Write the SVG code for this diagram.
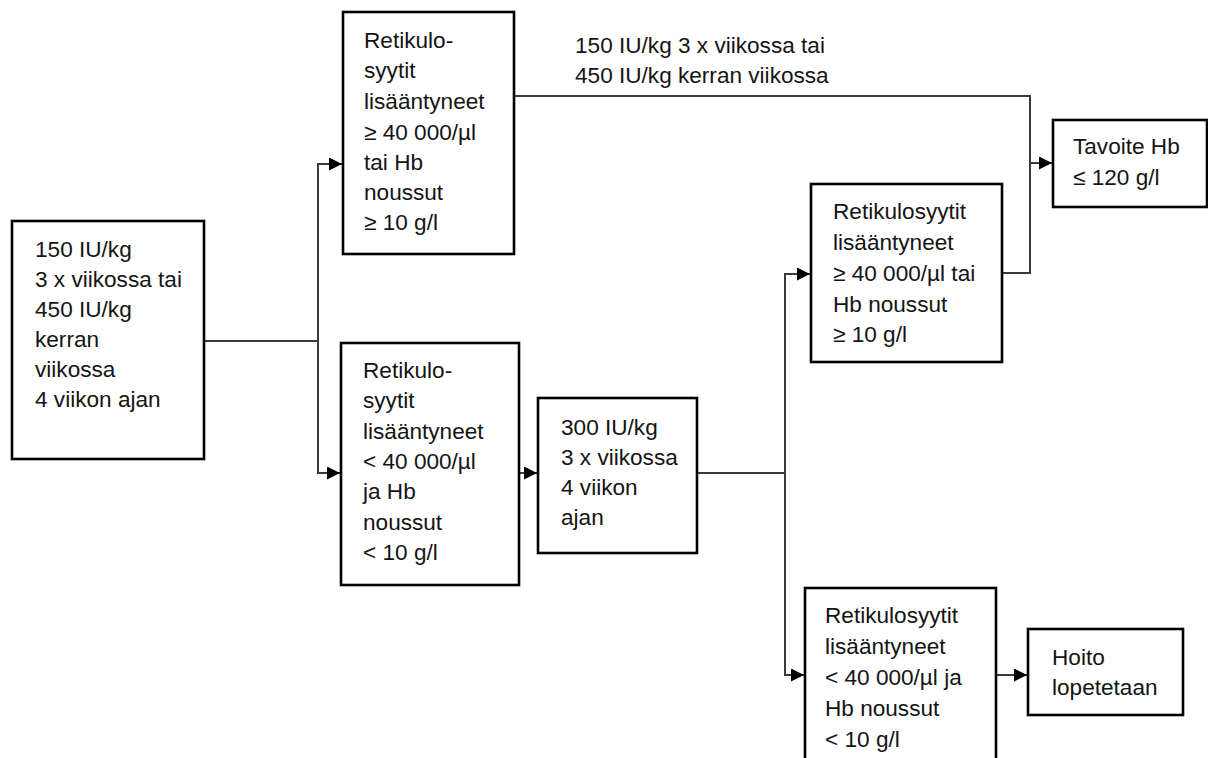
<svg xmlns="http://www.w3.org/2000/svg" width="1208" height="758" viewBox="0 0 1208 758">
  <style>
    .box { fill: #ffffff; stroke: #000000; stroke-width: 2.6; }
    .txt { font-family: "Liberation Sans", Arial, sans-serif; font-size: 22.6px; fill: #141414; }
    .wire { fill: none; stroke: #3a3a3a; stroke-width: 2; }
    .arrow { marker-end: url(#head); }
  </style>
  <defs>
    <marker id="head" markerUnits="userSpaceOnUse" markerWidth="14" markerHeight="13" refX="13" refY="6.5" orient="auto">
      <path d="M0,0 L13,6.5 L0,13 z" fill="#000000"/>
    </marker>
  </defs>
  <rect width="1208" height="758" fill="#ffffff"/>

  <!-- connectors -->
  <g id="connectors">
    <path class="wire arrow" d="M204,341 H318 V164 H342"/>
    <path class="wire arrow" d="M318,341 V473 H340"/>
    <path class="wire" d="M514,96 H1030 V163"/>
    <path class="wire" d="M1002,273 H1030 V163"/>
    <path class="wire arrow" d="M1030,163 H1052"/>
    <path class="wire arrow" d="M519,473 H537"/>
    <path class="wire" d="M697,473 H785"/>
    <path class="wire arrow" d="M785,473 V274 H810"/>
    <path class="wire arrow" d="M785,473 V675 H804"/>
    <path class="wire arrow" d="M996,675 H1027"/>
    <text class="txt" x="575" y="53">150 IU/kg 3 x viikossa tai</text>
    <text class="txt" x="575" y="83">450 IU/kg kerran viikossa</text>
  </g>

  <g id="start">
    <rect class="box" x="12" y="221" width="192" height="238"/>
    <text class="txt" x="35" y="257">150 IU/kg</text>
    <text class="txt" x="35" y="287">3 x viikossa tai</text>
    <text class="txt" x="35" y="317">450 IU/kg</text>
    <text class="txt" x="35" y="347">kerran</text>
    <text class="txt" x="35" y="377">viikossa</text>
    <text class="txt" x="35" y="407">4 viikon ajan</text>
  </g>

  <g id="response-high-1">
    <rect class="box" x="343" y="12" width="171" height="242"/>
    <text class="txt" x="364" y="48">Retikulo-</text>
    <text class="txt" x="364" y="78">syytit</text>
    <text class="txt" x="364" y="109">lisääntyneet</text>
    <text class="txt" x="364" y="140">≥ 40 000/µl</text>
    <text class="txt" x="364" y="170">tai Hb</text>
    <text class="txt" x="364" y="200">noussut</text>
    <text class="txt" x="364" y="230">≥ 10 g/l</text>
  </g>

  <g id="response-low-1">
    <rect class="box" x="341" y="343" width="178" height="242"/>
    <text class="txt" x="363" y="378">Retikulo-</text>
    <text class="txt" x="363" y="408">syytit</text>
    <text class="txt" x="363" y="439">lisääntyneet</text>
    <text class="txt" x="363" y="469">&lt; 40 000/µl</text>
    <text class="txt" x="363" y="499">ja Hb</text>
    <text class="txt" x="363" y="530">noussut</text>
    <text class="txt" x="363" y="560">&lt; 10 g/l</text>
  </g>

  <g id="dose-increase">
    <rect class="box" x="538" y="398" width="159" height="155"/>
    <text class="txt" x="561" y="435">300 IU/kg</text>
    <text class="txt" x="561" y="465">3 x viikossa</text>
    <text class="txt" x="561" y="495">4 viikon</text>
    <text class="txt" x="561" y="525">ajan</text>
  </g>

  <g id="response-high-2">
    <rect class="box" x="811" y="184" width="191" height="178"/>
    <text class="txt" x="833" y="219">Retikulosyytit</text>
    <text class="txt" x="833" y="250">lisääntyneet</text>
    <text class="txt" x="833" y="281">≥ 40 000/µl tai</text>
    <text class="txt" x="833" y="312">Hb noussut</text>
    <text class="txt" x="833" y="342">≥ 10 g/l</text>
  </g>

  <g id="target">
    <rect class="box" x="1053" y="120" width="154" height="87"/>
    <text class="txt" x="1073" y="154">Tavoite Hb</text>
    <text class="txt" x="1073" y="185">≤ 120 g/l</text>
  </g>

  <g id="response-low-2">
    <rect class="box" x="805" y="588" width="191" height="200"/>
    <text class="txt" x="825" y="623">Retikulosyytit</text>
    <text class="txt" x="825" y="654">lisääntyneet</text>
    <text class="txt" x="825" y="685">&lt; 40 000/µl ja</text>
    <text class="txt" x="825" y="716">Hb noussut</text>
    <text class="txt" x="825" y="747">&lt; 10 g/l</text>
  </g>

  <g id="stop">
    <rect class="box" x="1028" y="629" width="155" height="86"/>
    <text class="txt" x="1052" y="665">Hoito</text>
    <text class="txt" x="1052" y="695">lopetetaan</text>
  </g>
</svg>
